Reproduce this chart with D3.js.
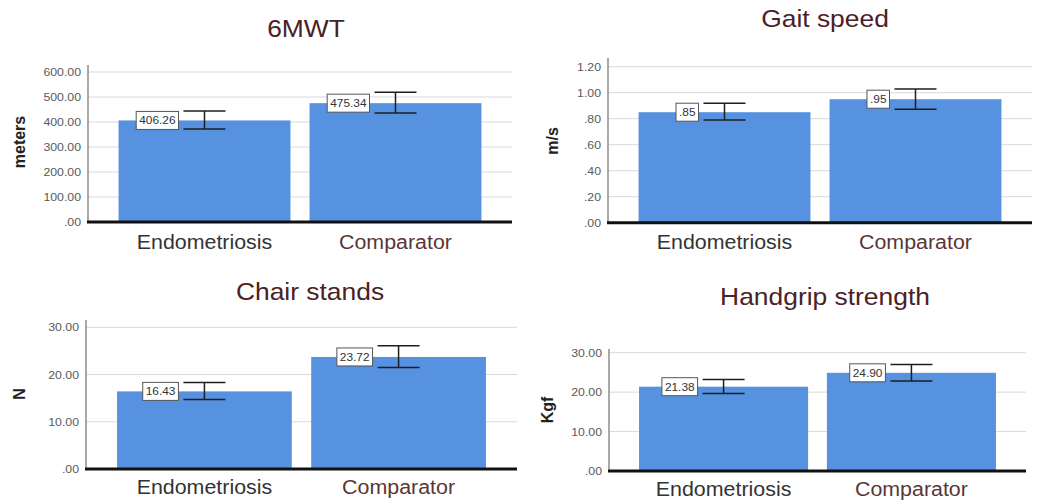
<!DOCTYPE html>
<html>
<head>
<meta charset="utf-8">
<script src="https://cdn.jsdelivr.net/npm/d3@7"></script>
<style>
  html, body { margin: 0; padding: 0; background: #fff; }
  svg { display: block; font-family: "Liberation Sans", Arial, Helvetica, sans-serif; }
</style>
</head>
<body>
<svg id="chart" width="1038" height="500"></svg>
<script>
// ---------- DATA ----------
const categories = ["Endometriosis", "Comparator"];

const titles = ["6MWT", "Gait speed", "Chair stands", "Handgrip strength"];
const yTitles = ["meters", "m/s", "N", "Kgf"];

const meanSixMWT = [406.26, 475.34];
const lowSixMWT = [372, 436];
const highSixMWT = [444, 519];
const ticksSixMWT = [0, 100, 200, 300, 400, 500, 600];

const meanGait = [0.85, 0.95];
const lowGait = [0.79, 0.872];
const highGait = [0.918, 1.028];
const ticksGait = [0, 0.2, 0.4, 0.6, 0.8, 1.0, 1.2];

const meanChair = [16.43, 23.72];
const lowChair = [14.73, 21.5];
const highChair = [18.33, 26.07];
const ticksChair = [0, 10, 20, 30];

const meanGrip = [21.38, 24.90];
const lowGrip = [19.67, 22.8];
const highGrip = [23.2, 27.0];
const ticksGrip = [0, 10, 20, 30];

// ---------- LAYOUT (positions / styles only) ----------
const panels = [
  { title: titles[0], yTitle: yTitles[0], mean: meanSixMWT, low: lowSixMWT, high: highSixMWT, ticks: ticksSixMWT,
    x0: 88, x1: 512, yBase: 222, yTop: 72, axisTop: 65, titleX: 306, titleY: 37, yTitleX: 25, yTitleY: 142, catY: 249 },
  { title: titles[1], yTitle: yTitles[1], mean: meanGait, low: lowGait, high: highGait, ticks: ticksGait,
    x0: 608, x1: 1032, yBase: 222.7, yTop: 66.7, axisTop: 58, titleX: 825, titleY: 27, yTitleX: 558, yTitleY: 141, catY: 249 },
  { title: titles[2], yTitle: yTitles[2], mean: meanChair, low: lowChair, high: highChair, ticks: ticksChair,
    x0: 86, x1: 517, yBase: 469, yTop: 327.3, axisTop: 320, titleX: 310, titleY: 300, yTitleX: 25, yTitleY: 394, catY: 494 },
  { title: titles[3], yTitle: yTitles[3], mean: meanGrip, low: lowGrip, high: highGrip, ticks: ticksGrip,
    x0: 609, x1: 1026, yBase: 471, yTop: 352.7, axisTop: 349, titleX: 825, titleY: 305, yTitleX: 553, yTitleY: 410, catY: 496 }
];

const barColor = "#5692e0";
const titleColor = "#4b2126";
const catColors = ["#333333", "#5b3636"];

const fmt = v => d3.format(".2f")(v).replace(/^0\./, ".");

const svg = d3.select("#chart");

panels.forEach(p => {
  const g = svg.append("g");
  const yMax = p.ticks[p.ticks.length - 1];
  const y = d3.scaleLinear().domain([0, yMax]).range([p.yBase, p.yTop]);
  const x = d3.scaleBand().domain(categories).range([p.x0, p.x1]).paddingInner(0.1).paddingOuter(0.16);

  // gridlines
  g.selectAll(".grid").data(p.ticks.filter(t => t > 0)).join("line")
    .attr("x1", p.x0).attr("x2", p.x1)
    .attr("y1", d => y(d)).attr("y2", d => y(d))
    .attr("stroke", "#d9d9d9").attr("stroke-width", 1);

  // tick labels
  g.selectAll(".tick").data(p.ticks).join("text")
    .attr("transform", d => `translate(${p.x0 - 7},${y(d) + 4}) scale(1.12,1)`)
    .attr("text-anchor", "end")
    .attr("font-size", 11)
    .attr("fill", "#5a5a5a")
    .text(d => fmt(d));

  // bars
  g.selectAll(".bar").data(categories).join("rect")
    .attr("x", d => x(d))
    .attr("width", x.bandwidth())
    .attr("y", (d, i) => y(p.mean[i]))
    .attr("height", (d, i) => p.yBase - y(p.mean[i]))
    .attr("fill", barColor);

  // y axis line
  g.append("line")
    .attr("x1", p.x0).attr("x2", p.x0)
    .attr("y1", p.axisTop).attr("y2", p.yBase)
    .attr("stroke", "#8c8c8c").attr("stroke-width", 1.5);

  // baseline
  g.append("line")
    .attr("x1", p.x0 - 1).attr("x2", p.x1)
    .attr("y1", p.yBase).attr("y2", p.yBase)
    .attr("stroke", "#111").attr("stroke-width", 3);

  // error bars
  const cap = 21;
  categories.forEach((c, i) => {
    const cx = x(c) + x.bandwidth() / 2;
    const eb = g.append("g").attr("stroke", "#1e1e1e").attr("stroke-width", 1.5);
    eb.append("line").attr("x1", cx).attr("x2", cx).attr("y1", y(p.high[i])).attr("y2", y(p.low[i]));
    eb.append("line").attr("x1", cx - cap).attr("x2", cx + cap).attr("y1", y(p.high[i])).attr("y2", y(p.high[i]));
    eb.append("line").attr("x1", cx - cap).attr("x2", cx + cap).attr("y1", y(p.low[i])).attr("y2", y(p.low[i]));

    // value label box
    const lbl = fmt(p.mean[i]);
    const t = g.append("text")
      .attr("font-size", 11)
      .attr("fill", "#333")
      .attr("text-anchor", "end")
      .attr("transform", `translate(${cx - 29},${y(p.mean[i]) + 4}) scale(1.08,1)`)
      .text(lbl);
    const w = t.node().getComputedTextLength() * 1.08;
    g.insert("rect", () => t.node())
      .attr("x", cx - 29 - w - 3)
      .attr("y", y(p.mean[i]) - 9)
      .attr("width", w + 6)
      .attr("height", 18)
      .attr("fill", "#fff")
      .attr("stroke", "#555")
      .attr("stroke-width", 1);

    // category label
    g.append("text")
      .attr("transform", `translate(${cx},${p.catY}) scale(1.07,1)`)
      .attr("text-anchor", "middle")
      .attr("font-size", 20)
      .attr("fill", catColors[i])
      .text(c);
  });

  // y title
  g.append("text")
    .attr("transform", `translate(${p.yTitleX},${p.yTitleY}) rotate(-90)`)
    .attr("text-anchor", "middle")
    .attr("font-size", 16)
    .attr("font-weight", "bold")
    .attr("fill", "#222")
    .text(p.yTitle);

  // title
  g.append("text")
    .attr("transform", `translate(${p.titleX},${p.titleY}) scale(1.1,1)`)
    .attr("text-anchor", "middle")
    .attr("font-size", 24)
    .attr("fill", titleColor)
    .text(p.title);
});
</script>
</body>
</html>
